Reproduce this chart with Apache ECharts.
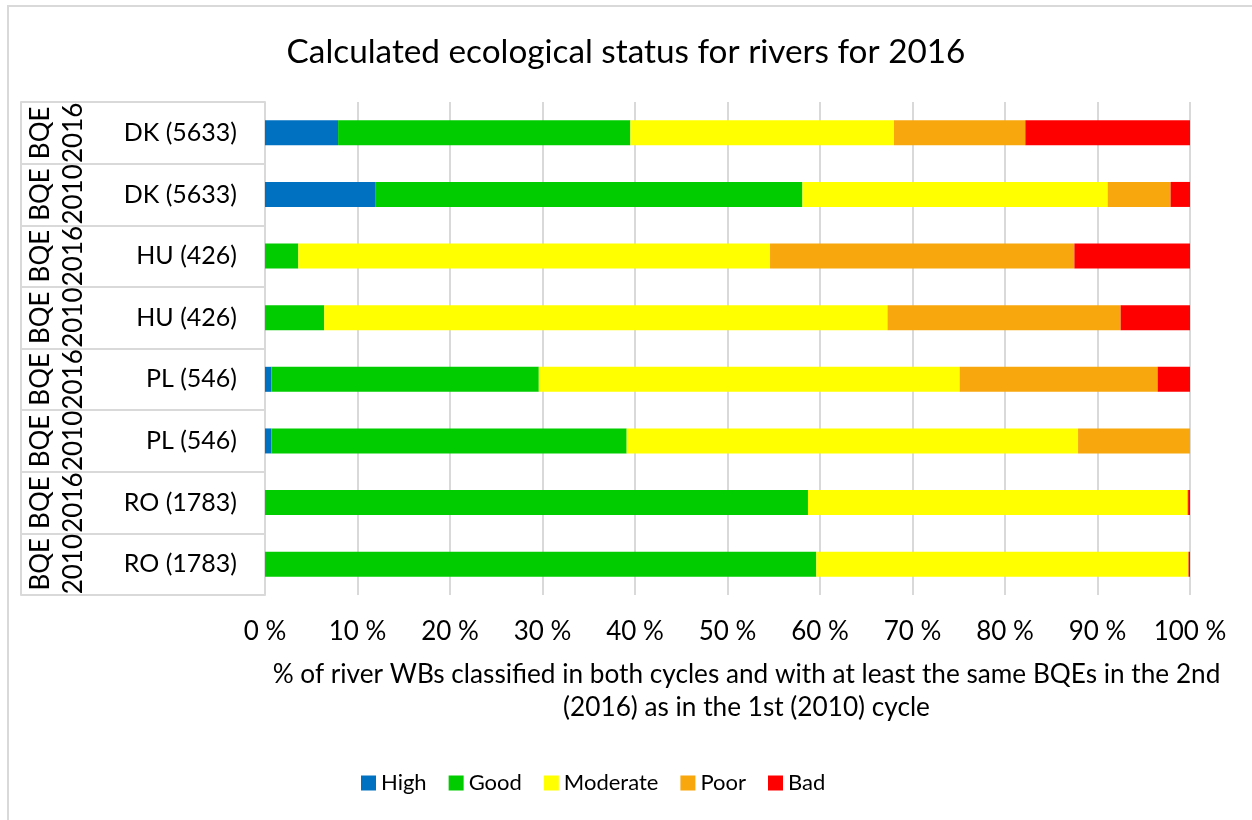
<!DOCTYPE html>
<html>
<head>
<meta charset="utf-8">
<script src="https://cdn.jsdelivr.net/npm/echarts@6/dist/echarts.min.js"></script>
<style>
  html, body { margin: 0; padding: 0; background: #fff; }
  #chart { width: 1252px; height: 820px; }
</style>
</head>
<body>
<div id="chart"></div>
<script>
// rows top to bottom
const countries = ['DK (5633)', 'DK (5633)', 'HU (426)', 'HU (426)', 'PL (546)', 'PL (546)', 'RO (1783)', 'RO (1783)'];
const cycles = ['BQE\n2016', 'BQE\n2010', 'BQE\n2016', 'BQE\n2010', 'BQE\n2016', 'BQE\n2010', 'BQE\n2016', 'BQE\n2010'];

// % of water bodies per status class
const high     = [7.9, 11.9, 0, 0, 0.7, 0.7, 0, 0];
const good     = [31.6, 46.2, 3.6, 6.4, 28.9, 38.4, 58.7, 59.6];
const moderate = [28.5, 33.0, 51.0, 60.9, 45.5, 48.8, 41.0, 40.2];
const poor     = [14.2, 6.8, 32.9, 25.2, 21.4, 12.1, 0.1, 0.05];
const bad      = [17.8, 2.1, 12.5, 7.5, 3.5, 0, 0.2, 0.15];

const statusNames = ['High', 'Good', 'Moderate', 'Poor', 'Bad'];
const statusColors = ['#0070C0', '#00CC00', '#FFFF00', '#F8A70C', '#FF0000'];

const font = 'Lato';
const lineCol = '#d9d9d9';

const chart = echarts.init(document.getElementById('chart'));

const series = [high, good, moderate, poor, bad].map((vals, i) => ({
  name: statusNames[i],
  type: 'bar',
  stack: 'status',
  data: vals,
  barWidth: 25,
  itemStyle: { color: statusColors[i] },
  emphasis: { disabled: true }
}));

const option = {
  animation: false,
  textStyle: { fontFamily: font },
  graphic: [{
    type: 'rect',
    shape: { x: 8, y: 6, width: 1300, height: 900 },
    style: { fill: 'none', stroke: lineCol, lineWidth: 2 },
    silent: true
  }],
  title: {
    text: 'Calculated ecological status for rivers for 2016',
    left: 'center',
    top: 31,
    padding: [5, 0, 5, 10],
    textStyle: { fontFamily: font, fontSize: 33.3, fontWeight: 'normal', color: '#000' }
  },
  legend: {
    left: 356,
    top: 767,
    icon: 'rect',
    itemWidth: 15,
    itemHeight: 15,
    itemGap: 22,
    textStyle: { fontFamily: font, fontSize: 22, color: '#000' },
    data: statusNames
  },
  grid: { left: 265, right: 62, top: 102, bottom: 225 },
  xAxis: {
    type: 'value',
    min: 0,
    max: 100,
    interval: 10,
    axisLabel: { formatter: '{value} %', fontSize: 26, color: '#000', margin: 24 },
    axisLine: { show: false },
    axisTick: { show: false },
    splitLine: { lineStyle: { color: lineCol, width: 2 } },
    name: '% of river WBs classified in both cycles and with at least the same BQEs in the 2nd\n(2016) as in the 1st (2010) cycle',
    nameLocation: 'middle',
    nameGap: 63,
    nameTextStyle: { fontSize: 26.2, color: '#000', lineHeight: 33, padding: [0, 0, 0, 38] }
  },
  yAxis: [{
    type: 'category',
    inverse: true,
    data: countries,
    axisLine: { show: true, lineStyle: { color: lineCol, width: 2 } },
    axisTick: { show: true, length: 244, lineStyle: { color: lineCol, width: 2 } },
    axisLabel: { fontSize: 25, color: '#000', margin: 28, interval: 0 }
  }, {
    type: 'category',
    inverse: true,
    position: 'left',
    offset: 244,
    data: cycles,
    axisLine: { show: true, lineStyle: { color: lineCol, width: 2 } },
    axisTick: { show: false },
    axisLabel: {
      inside: true,
      interval: 0,
      rotate: 90,
      fontSize: 26,
      lineHeight: 33,
      color: '#000',
      margin: 3,
      align: 'center',
      verticalAlign: 'top'
    }
  }],
  series: series
};

chart.setOption(option);
</script>
</body>
</html>
